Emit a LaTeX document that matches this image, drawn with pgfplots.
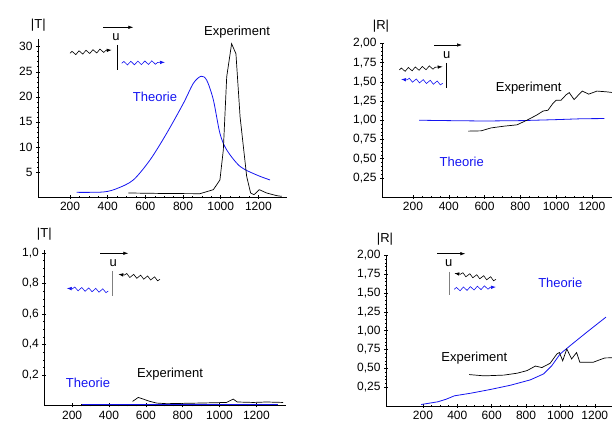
\documentclass[border=0pt]{standalone}
\usepackage{fontspec}
\setmainfont{Liberation Sans}
\usepackage{pgfplots}
\pgfplotsset{compat=1.18}
\usetikzlibrary{arrows.meta,decorations.pathmorphing}

\definecolor{theo}{RGB}{20,20,240}
\newcommand{\lbl}{\fontsize{13}{15}\selectfont}
\newcommand{\tkl}{\fontsize{12}{14}\selectfont}

\pgfplotsset{
  mma/.style={
    scale only axis,
    axis lines=left,
    axis line style={-, line width=0.6pt},
    tick style={black, line width=0.5pt},
    major tick length=4pt, minor tick length=2pt,
    tick align=center,
    ticklabel style={font=\tkl},
    /pgf/number format/assume math mode=true,
    /pgf/number format/1000 sep={},
    xtick={200,400,...,1200}, minor x tick num=3,
    ymin=0,
  },
  rfmt/.style={yticklabel style={/pgf/number format/.cd, fixed, fixed zerofill, precision=2, use comma}},
  exp/.style={black, line width=0.7pt},
  th/.style={theo, line width=0.8pt},
}

\tikzset{
  wave/.style={decorate, decoration={snake, amplitude=1.8pt, segment length=7pt, post length=5pt}, line width=0.6pt},
  tip/.style={-{Latex[length=5pt,width=3.5pt]}},
}

\begin{document}
\begin{tikzpicture}[x=1pt,y=1pt]
\useasboundingbox (0,0) rectangle (612,422);

% top left |T|
\begin{axis}[mma, at={(38pt,225pt)}, anchor=south west, width=248.6pt, height=157.8pt,
  xmin=30, xmax=1350, ymax=31.5, ytick={5,10,...,30}, minor y tick num=4]
  \addplot[th, smooth, tension=0.5] coordinates {
    (235,0.93) (377,1.0) (450,1.7) (536,3.4) (625,7.4) (713,12.7) (802,18.7)
    (855,22.7) (896,24.1) (926,23.3) (961,19.4) (996,12.7) (1032,9.4)
    (1103,6.1) (1191,4.4) (1262,3.4)
  };
  \addplot[exp] coordinates {
    (510,0.8) (700,0.7) (890,0.66) (961,1.46) (996,3.4) (1014,9.4) (1032,24)
    (1058,30.6) (1081,28.6) (1103,16) (1138,4.1) (1159,0.8) (1177,0.46)
    (1205,1.46) (1244,0.8) (1297,0.27) (1324,0.13)
  };
\end{axis}

% top right |R|
\begin{axis}[mma, rfmt, at={(382pt,225pt)}, anchor=south west, width=230pt, height=153.5pt,
  xmin=27, xmax=1312, ymax=2, ytick={0.25,0.5,...,2.0}, minor y tick num=4]
  \addplot[th] coordinates {
    (235,1.0) (400,0.995) (600,0.99) (800,0.995) (1000,1.008) (1150,1.02) (1270,1.022)
  };
  \addplot[exp] coordinates {
    (508,0.858) (581,0.862) (636,0.90) (709,0.923) (781,0.94) (836,1.0)
    (891,1.067) (927,1.12) (954,1.13) (982,1.22) (1000,1.26) (1027,1.26)
    (1055,1.33) (1073,1.36) (1100,1.27) (1146,1.38) (1182,1.34) (1228,1.38) (1282,1.37) (1320,1.36)
  };
\end{axis}

% bottom left |T|
\begin{axis}[mma, at={(44.3pt,16.5pt)}, anchor=south west, width=241.6pt, height=155.5pt,
  xmin=49, xmax=1360, ymax=1.02, ytick={0.2,0.4,...,1.0}, minor y tick num=3,
  yticklabel style={/pgf/number format/.cd, fixed, fixed zerofill, precision=1, use comma}]
  \addplot[th] coordinates {(251,0.004) (800,0.004) (1316,0.004)};
  \addplot[exp] coordinates {
    (528,0.027) (559,0.053) (622,0.027) (658,0.016) (712,0.012) (893,0.016)
    (1038,0.02) (1074,0.042) (1096,0.023) (1183,0.02) (1255,0.023) (1345,0.02)
  };
\end{axis}

% bottom right |R|
\begin{axis}[mma, rfmt, at={(386pt,16pt)}, anchor=south west, width=226pt, height=150.7pt,
  xmin=-15, xmax=1300, ymax=2, ytick={0.25,0.5,...,2.0}, minor y tick num=4]
  \addplot[th] coordinates {
    (190,0.02) (287,0.056) (335,0.09) (383,0.135) (479,0.17) (594,0.22)
    (710,0.276) (825,0.347) (902,0.426) (950,0.536) (998,0.69) (1056,0.80)
    (1152,0.977) (1265,1.18)
  };
  \addplot[exp] coordinates {
    (469,0.417) (556,0.40) (671,0.41) (748,0.435) (806,0.47) (854,0.53)
    (892,0.51) (940,0.567) (979,0.69) (994,0.71) (1013,0.60) (1037,0.757)
    (1065,0.624) (1094,0.71) (1113,0.58) (1190,0.58) (1258,0.638) (1300,0.64)
  };
\end{axis}

% labels
\node[font=\lbl] at (38.3,397) {|T|};
\node[font=\lbl] at (381,396) {|R|};
\node[font=\lbl] at (44.3,188.3) {|T|};
\node[font=\lbl] at (385,182.7) {|R|};

\node[font=\lbl] at (237,390) {Experiment};
\node[font=\lbl, text=theo] at (155,325) {Theorie};
\node[font=\lbl] at (528.7,333.7) {Experiment};
\node[font=\lbl, text=theo] at (461.7,260.3) {Theorie};
\node[font=\lbl] at (170,48) {Experiment};
\node[font=\lbl, text=theo] at (88,39) {Theorie};
\node[font=\lbl] at (474.3,64.3) {Experiment};
\node[font=\lbl, text=theo] at (560.3,139.3) {Theorie};

% inset sketches
\draw[tip, line width=0.6pt] (103.3,394.7) -- (133.3,394.7);
\node[font=\lbl] at (116,385.3) {u};
\draw[line width=0.8pt] (117.3,377) -- (117.3,352);
\draw[wave, tip] (70,368.7) -- (111.7,372);
\draw[wave, tip, theo] (121.7,358.7) -- (165,359.7);

\draw[tip, line width=0.6pt] (434,377) -- (462,377);
\node[font=\lbl] at (446.7,367) {u};
\draw[line width=0.8pt] (446.7,359) -- (446.7,334);
\draw[wave, tip] (399.3,352) -- (442.7,355.3);
\draw[wave, tip, theo] (442.7,338.7) -- (401,342.7);

\draw[tip, line width=0.6pt] (100,168.7) -- (128.3,168.7);
\node[font=\lbl] at (113.3,158.7) {u};
\draw[gray, line width=1pt] (112.7,151) -- (112.7,126);
\draw[wave, tip] (160,142.7) -- (118.3,147.7);
\draw[wave, tip, theo] (108.3,131) -- (66.7,133.7);

\draw[tip, line width=0.6pt] (437,168.3) -- (465.3,168.3);
\node[font=\lbl] at (448.7,159.3) {u};
\draw[gray, line width=1pt] (449.3,150.3) -- (449.3,127);
\draw[wave, tip] (496,142.7) -- (454.3,148.7);
\draw[wave, tip, theo] (454.3,132.7) -- (496,135);
\end{tikzpicture}
\end{document}
